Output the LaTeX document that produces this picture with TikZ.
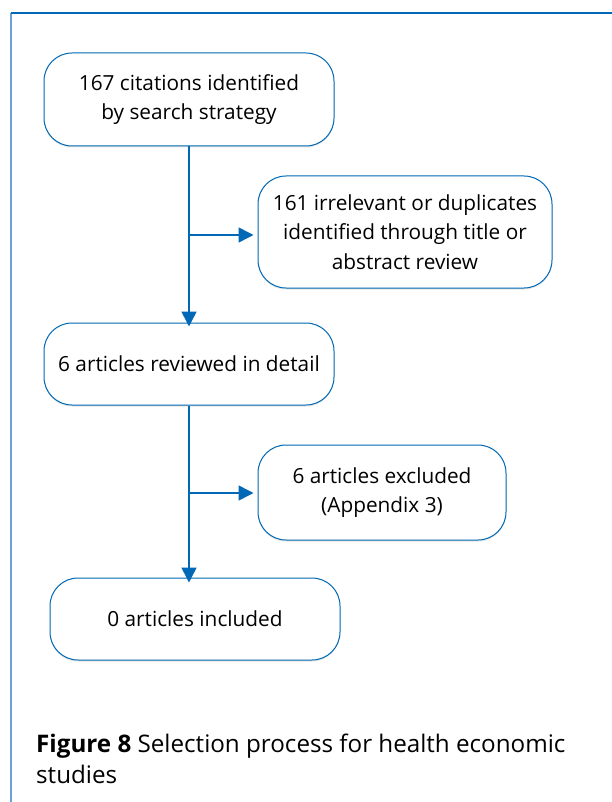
\documentclass[tikz,border=0pt]{standalone}
\usepackage{fontspec}
\setmainfont{Open Sans}
\usetikzlibrary{arrows.meta,shadows}
\definecolor{bblue}{RGB}{0,104,180}
\definecolor{lblue}{RGB}{110,160,215}
\begin{document}
\begin{tikzpicture}[x=1pt,y=-1pt,
  box/.style={draw=bblue,line width=1pt,rounded corners=28pt,fill=white,align=center,
    font=\fontsize{20.8}{29.5}\selectfont,inner sep=0pt,
    drop shadow={shadow xshift=0pt,shadow yshift=-1.5pt,opacity=0.25,fill=black!40}},
  arr/.style={draw=bblue,line width=1.6pt,-{Triangle[length=15pt,width=15pt]}},
  ln/.style={draw=bblue,line width=1.6pt}]
\useasboundingbox (0,0) rectangle (612,802);
\fill[white] (0,0) rectangle (612,802);
\draw[lblue,line width=1.2pt] (11,13) -- (11,802);
\draw[bblue,line width=1.2pt] (11,13) -- (612,13);
\node[box,minimum width=290pt,minimum height=93pt] (b1) at (189,99.5) {167 citations identified\\by search strategy};
\node[box,minimum width=294pt,minimum height=112pt] (b2) at (405,232) {161 irrelevant or duplicates\\identified through title or\\abstract review};
\node[box,minimum width=290pt,minimum height=82pt] (b3) at (189,364) {6 articles reviewed in detail};
\node[box,minimum width=248pt,minimum height=95pt] (b4) at (382,492.5) {6 articles excluded\\(Appendix 3)};
\node[box,minimum width=290pt,minimum height=82pt] (b5) at (195,619) {0 articles included};
\coordinate (j1) at (189,235);
\coordinate (j2) at (189,493);
\draw[arr] (b1.south -| j1) -- ([yshift=-4pt]b3.north -| j1);
\draw[arr] (j1) -- ([xshift=-4pt]b2.west |- j1);
\draw[arr] (b3.south -| j2) -- ([yshift=-5pt]b5.north -| j2);
\draw[arr] (j2) -- ([xshift=-4pt]b4.west |- j2);
\node[anchor=base west,inner sep=0pt,font=\fontsize{24.2}{31}\selectfont] (cap) at (36,752) {\textbf{Figure 8} Selection process for health economic};
\node[anchor=base west,inner sep=0pt,font=\fontsize{24.2}{31}\selectfont] (cap2) at (36,783) {studies};
\end{tikzpicture}
\end{document}
